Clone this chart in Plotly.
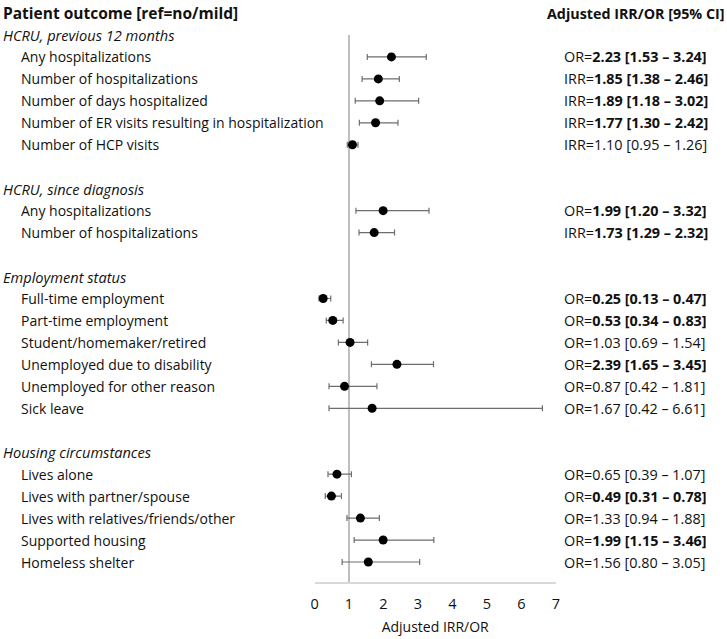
import plotly.graph_objects as go

# ---- data ----
groups = ["HCRU, previous 12 months", "HCRU, since diagnosis", "Employment status", "Housing circumstances"]

hcru12_labels = ["Any hospitalizations", "Number of hospitalizations", "Number of days hospitalized",
                 "Number of ER visits resulting in hospitalization", "Number of HCP visits"]
hcru12_type = ["OR", "IRR", "IRR", "IRR", "IRR"]
hcru12_est = [2.23, 1.85, 1.89, 1.77, 1.10]
hcru12_lo = [1.53, 1.38, 1.18, 1.30, 0.95]
hcru12_hi = [3.24, 2.46, 3.02, 2.42, 1.26]
hcru12_sig = [True, True, True, True, False]

hcrudx_labels = ["Any hospitalizations", "Number of hospitalizations"]
hcrudx_type = ["OR", "IRR"]
hcrudx_est = [1.99, 1.73]
hcrudx_lo = [1.20, 1.29]
hcrudx_hi = [3.32, 2.32]
hcrudx_sig = [True, True]

emp_labels = ["Full-time employment", "Part-time employment", "Student/homemaker/retired",
              "Unemployed due to disability", "Unemployed for other reason", "Sick leave"]
emp_type = ["OR"] * 6
emp_est = [0.25, 0.53, 1.03, 2.39, 0.87, 1.67]
emp_lo = [0.13, 0.34, 0.69, 1.65, 0.42, 0.42]
emp_hi = [0.47, 0.83, 1.54, 3.45, 1.81, 6.61]
emp_sig = [True, True, False, True, False, False]

house_labels = ["Lives alone", "Lives with partner/spouse", "Lives with relatives/friends/other",
                "Supported housing", "Homeless shelter"]
house_type = ["OR"] * 5
house_est = [0.65, 0.49, 1.33, 1.99, 1.56]
house_lo = [0.39, 0.31, 0.94, 1.15, 0.80]
house_hi = [1.07, 0.78, 1.88, 3.46, 3.05]
house_sig = [False, True, False, True, False]

x_ticks = [0, 1, 2, 3, 4, 5, 6, 7]
header_left = "Patient outcome [ref=no/mild]"
header_right = "Adjusted IRR/OR [95% CI]"
x_title = "Adjusted IRR/OR"

sections = [
    (groups[0], hcru12_labels, hcru12_type, hcru12_est, hcru12_lo, hcru12_hi, hcru12_sig),
    (groups[1], hcrudx_labels, hcrudx_type, hcrudx_est, hcrudx_lo, hcrudx_hi, hcrudx_sig),
    (groups[2], emp_labels, emp_type, emp_est, emp_lo, emp_hi, emp_sig),
    (groups[3], house_labels, house_type, house_est, house_lo, house_hi, house_sig),
]

FONT = "Open Sans"
FS_LABEL = 14.0
FS_GROUP = 14.6
FS_HEAD = 15.5
FS_HEAD_R = 14.3
FS_VAL = 14.4
W, H = 727, 639
TXT = "#111111"

annotations = []
ys, xs, eplus, eminus = [], [], [], []
row = 0


def ann(text, xpx, r, size, anchor="left"):
    annotations.append(dict(text=text, x=xpx / W, xref="paper", y=r, yref="y",
                            xanchor=anchor, yanchor="middle", showarrow=False,
                            font=dict(size=size, color=TXT, family=FONT)))


ann("<b>" + header_left + "</b>", -3, row, FS_HEAD)
ann("<b>" + header_right + "</b>", 731, row, FS_HEAD_R, "right")
for si, (g, labels, types, est, lo, hi, sig) in enumerate(sections):
    row += 1
    ann("<i>" + g + "</i>", -3, row, FS_GROUP)
    for lab, t, e, l, h, s in zip(labels, types, est, lo, hi, sig):
        row += 1
        ann(lab, 15, row, FS_LABEL)
        vals = f"{e:.2f} [{l:.2f} – {h:.2f}]"
        ann(f"{t}=" + (f"<b>{vals}</b>" if s else vals), 564, row, FS_VAL)
        ys.append(row)
        xs.append(e)
        eplus.append(h - e)
        eminus.append(e - l)
    if si < len(sections) - 1:
        row += 1  # blank spacer row

last_row = row
first_group_row = 1

fig = go.Figure()
fig.add_trace(go.Scatter(x=[1, 1], y=[first_group_row, last_row + 0.95], mode="lines",
                         line=dict(color="#bfbfbf", width=2), hoverinfo="skip", showlegend=False))
fig.add_trace(go.Scatter(
    x=xs, y=ys, mode="markers",
    marker=dict(color="black", size=9),
    error_x=dict(type="data", array=eplus, arrayminus=eminus, color="#6e6e6e", thickness=1.2, width=3),
    showlegend=False, hoverinfo="skip"))

row_px = 21.96
top_px = 13
axis_px = 582
r_top = -top_px / row_px
r_bot = (axis_px - top_px) / row_px

fig.update_layout(
    width=W, height=H,
    margin=dict(l=0, r=0, t=0, b=0),
    paper_bgcolor="white", plot_bgcolor="white",
    font=dict(family=FONT, size=FS_LABEL, color=TXT),
    annotations=annotations,
    xaxis=dict(domain=[314 / W, 558 / W], range=[0, 7], tickvals=x_ticks,
               showgrid=False, zeroline=False, showline=True, linecolor="#d9d9d9", linewidth=1.5,
               ticks="outside", ticklen=8, tickcolor="rgba(0,0,0,0)",
               tickfont=dict(size=14.5), title=dict(text=x_title, font=dict(size=14), standoff=10)),
    yaxis=dict(domain=[(H - axis_px) / H, 1], range=[r_bot, r_top], visible=False, showgrid=False),
)

fig.write_html("out.html", config={"displayModeBar": False},
               post_script="document.body.style.margin='0px';")
